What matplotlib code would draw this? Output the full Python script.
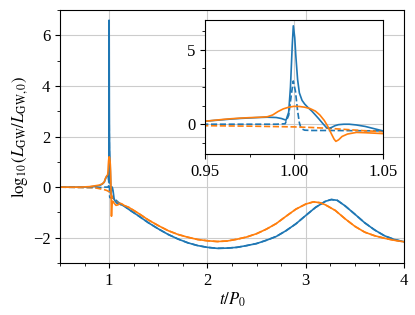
import numpy as np
import matplotlib
matplotlib.use('Agg')
import matplotlib.pyplot as plt
from matplotlib.ticker import MultipleLocator

plt.rcParams['font.family'] = 'serif'
plt.rcParams['font.serif'] = ['Liberation Serif', 'DejaVu Serif']
plt.rcParams['mathtext.fontset'] = 'stix'
plt.rcParams['font.size'] = 12

# blue solid
t_b = [0.5, 0.7, 0.8, 0.85, 0.9, 0.93, 0.95, 0.955, 0.96, 0.965, 0.97, 0.975, 0.98,
       0.985, 0.99, 0.993, 0.9955, 0.997, 0.998, 0.999, 0.9996, 1.0004, 1.001, 1.002,
       1.003, 1.0045, 1.006, 1.008, 1.01, 1.012, 1.014, 1.016, 1.018, 1.0195, 1.021,
       1.023, 1.025, 1.028, 1.031, 1.035, 1.04, 1.045, 1.05, 1.06, 1.08, 1.1, 1.15, 1.2,
       1.25, 1.3, 1.4, 1.5, 1.6, 1.7, 1.8, 1.9, 2.0, 2.1, 2.2, 2.3, 2.4, 2.5, 2.6, 2.7,
       2.8, 2.9, 3.0, 3.1, 3.2, 3.26, 3.32, 3.4, 3.5, 3.6, 3.7, 3.8, 3.9, 4.0]
y_b = [0, 0, 0.01, 0.03, 0.06, 0.12, 0.2, 0.25, 0.3, 0.35, 0.39, 0.42, 0.45,
       0.47, 0.45, 0.38, 0.27, 0.8, 2.5, 5.3, 6.6, 5.8, 4.6, 3.0,
       2.1, 1.6, 1.35, 1.1, 0.88, 0.62, 0.35, 0.07, -0.2, -0.28, -0.22,
       -0.1, -0.03, 0.0, 0.0, -0.05, -0.15, -0.3, -0.45, -0.55, -0.64, -0.66, -0.74, -0.88,
       -1.01, -1.14, -1.41, -1.65, -1.87, -2.05, -2.2, -2.31, -2.38, -2.42, -2.41, -2.38, -2.31, -2.23, -2.1, -1.95,
       -1.72, -1.45, -1.12, -0.8, -0.56, -0.49, -0.52, -0.74, -1.07, -1.41, -1.69, -1.92, -2.07, -2.16]

# orange solid
t_o = [0.5, 0.7, 0.8, 0.9, 0.93, 0.95, 0.955, 0.96, 0.965, 0.97, 0.975, 0.98, 0.985,
       0.988, 0.991, 0.994, 0.997, 1.0, 1.003, 1.006, 1.009, 1.012, 1.0145, 1.017, 1.019,
       1.021, 1.0225, 1.0235, 1.025, 1.027, 1.03, 1.035, 1.04, 1.045, 1.05, 1.07, 1.09,
       1.11, 1.13, 1.15, 1.2, 1.25, 1.3, 1.4, 1.5, 1.6, 1.7, 1.8, 1.9, 2.0, 2.1, 2.2,
       2.3, 2.4, 2.5, 2.6, 2.7, 2.8, 2.9, 3.0, 3.08, 3.15, 3.2, 3.3, 3.4, 3.5, 3.6, 3.7,
       3.8, 3.9, 4.0]
y_o = [0, 0, 0.02, 0.08, 0.13, 0.2, 0.26, 0.32, 0.37, 0.41, 0.44, 0.46, 0.5,
       0.62, 0.85, 1.03, 1.14, 1.2, 1.19, 1.14, 1.05, 0.88, 0.62, 0.25, -0.15,
       -0.65, -1.0, -1.15, -1.05, -0.82, -0.66, -0.55, -0.57, -0.6, -0.63, -0.72, -0.7,
       -0.64, -0.66, -0.72, -0.8, -0.92, -1.04, -1.3, -1.52, -1.72, -1.87, -1.98, -2.07, -2.12, -2.15, -2.13,
       -2.06, -1.97, -1.84, -1.66, -1.44, -1.15, -0.87, -0.67, -0.58, -0.62, -0.7, -0.92, -1.25, -1.55, -1.78, -1.92,
       -2.02, -2.1, -2.16]

# blue dashed
t_bd = [0.5, 0.9, 0.95, 0.99, 0.995, 0.997, 0.9985, 0.9996, 1.0008, 1.002, 1.003, 1.004,
        1.006, 1.01, 1.02, 1.03, 1.04, 1.05, 1.1, 1.15, 1.2, 1.25, 1.3, 1.4, 1.5, 1.6,
        1.7, 1.8, 1.9, 2.0, 2.1, 2.2, 2.3, 2.4, 2.5, 2.6, 2.7, 2.8, 2.9, 3.0, 3.1, 3.2,
        3.26, 3.32, 3.4, 3.5, 3.6, 3.7, 3.8, 3.9, 4.0]
y_bd = [0, -0.02, 0.0, 0.0, 0.03, 0.6, 2.0, 2.9, 2.2, 0.9, 0.1, -0.3,
        -0.4, -0.42, -0.42, -0.43, -0.44, -0.45, -0.62, -0.74, -0.88, -1.01, -1.14, -1.41, -1.65, -1.87,
        -2.05, -2.2, -2.31, -2.38, -2.42, -2.41, -2.38, -2.31, -2.23, -2.1, -1.95, -1.72, -1.45, -1.12, -0.8, -0.56,
        -0.49, -0.52, -0.74, -1.07, -1.41, -1.69, -1.92, -2.07, -2.16]

# orange dashed
t_od = [0.5, 0.85, 0.9, 0.95, 0.975, 1.0, 1.01, 1.02, 1.03, 1.04, 1.05, 1.1, 1.15, 1.2,
        1.25, 1.3, 1.4, 1.5, 1.6, 1.7, 1.8, 1.9, 2.0, 2.1, 2.2, 2.3, 2.4, 2.5, 2.6, 2.7,
        2.8, 2.9, 3.0, 3.08, 3.15, 3.2, 3.3, 3.4, 3.5, 3.6, 3.7, 3.8, 3.9, 4.0]
y_od = [0, -0.02, -0.06, -0.1, -0.13, -0.18, -0.22, -0.28, -0.36, -0.44, -0.5, -0.66, -0.73, -0.8,
        -0.92, -1.04, -1.3, -1.52, -1.72, -1.87, -1.98, -2.07, -2.12, -2.15, -2.13, -2.06, -1.97, -1.84, -1.66, -1.44,
        -1.15, -0.87, -0.67, -0.58, -0.62, -0.7, -0.92, -1.25, -1.55, -1.78, -1.92, -2.02, -2.1, -2.16]

blue = '#1f77b4'
orange = '#ff7f0e'

fig = plt.figure(figsize=(4.15, 3.15), dpi=100)
ax = fig.add_axes([0.1446, 0.165, 0.829, 0.803])


def draw(a, lw):
    a.plot(t_bd, y_bd, '--', color=blue, lw=lw)
    a.plot(t_od, y_od, '--', color=orange, lw=lw)
    a.plot(t_b, y_b, '-', color=blue, lw=lw)
    a.plot(t_o, y_o, '-', color=orange, lw=lw)
    a.grid(True, color='#cccccc', lw=0.8)
    a.set_axisbelow(True)


draw(ax, 1.2)
ax.set_xlim(0.5, 4)
ax.set_ylim(-3, 7)
ax.xaxis.set_major_locator(MultipleLocator(1))
ax.xaxis.set_minor_locator(MultipleLocator(0.25))
ax.yaxis.set_major_locator(MultipleLocator(2))
ax.yaxis.set_minor_locator(MultipleLocator(1))
ax.set_xlabel(r'$t/P_0$', labelpad=1)
ax.set_ylabel(r'$\log_{10}(L_{\rm GW}/L_{\rm GW,0})$', labelpad=2)

ins = fig.add_axes([0.494, 0.511, 0.429, 0.426])
ins.set_facecolor('white')
draw(ins, 1.2)
ins.set_xlim(0.95, 1.05)
ins.set_ylim(-2, 7)
ins.xaxis.set_major_locator(MultipleLocator(0.05))
ins.xaxis.set_minor_locator(MultipleLocator(0.025))
ins.yaxis.set_major_locator(MultipleLocator(5))
ins.yaxis.set_minor_locator(MultipleLocator(1.25))
ins.xaxis.set_major_formatter(plt.FormatStrFormatter('%.2f'))

fig.savefig('out.png', dpi=100)
